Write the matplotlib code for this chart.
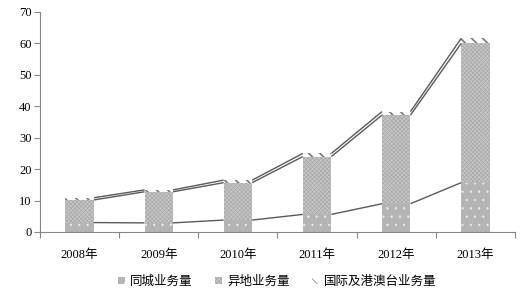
import matplotlib
matplotlib.use("Agg")
import matplotlib.pyplot as plt
import numpy as np

categories = ["2008年", "2009年", "2010年", "2011年", "2012年", "2013年"]
same_city = [3.0, 2.9, 3.8, 5.6, 9.0, 15.7]
other_city = [7.2, 9.9, 11.9, 18.4, 28.2, 44.3]
international = [0.7, 0.6, 0.8, 1.0, 1.1, 1.6]
series_names = ["同城业务量", "异地业务量", "国际及港澳台业务量"]
y_ticks = [0, 10, 20, 30, 40, 50, 60, 70]

plt.rcParams['font.family'] = ['Liberation Serif', 'Noto Sans CJK SC', 'DejaVu Sans']
plt.rcParams['hatch.linewidth'] = 0.5

fig = plt.figure(figsize=(5.2, 2.9), dpi=100)
ax = fig.add_axes([40/520, 1-232/290, 475/520, 220/290])

x = np.arange(len(categories))
w = 0.36
s1 = np.array(same_city)
s2 = np.array(other_city)
s3 = np.array(international)

b1 = ax.bar(x, s1, w, color='#b4b4b4', edgecolor='#e8e8e8', hatch='..', linewidth=0)
b2 = ax.bar(x, s2, w, bottom=s1, color='#c6c6c6', edgecolor='#a8a8a8', hatch='xxxxxxxx', linewidth=0)
b3 = ax.bar(x, s3, w, bottom=s1+s2, color='white', edgecolor='#808080', hatch='\\\\\\', linewidth=0)
for p in b3.patches:
    try:
        p.set_hatch_linewidth(1.3)
    except Exception:
        pass

lc = '#5a5a5a'
for cum in [s1, s1+s2, s1+s2+s3]:
    for i in range(len(x)-1):
        ax.plot([x[i]+w/2, x[i+1]-w/2], [cum[i], cum[i+1]], color=lc, lw=1.0, solid_capstyle='butt')

ax.set_xlim(-0.5, len(x)-0.5)
ax.set_ylim(0, 70)
ax.set_yticks(y_ticks)
ax.set_yticklabels([str(v) for v in y_ticks], fontsize=9)
ax.set_xticks(np.arange(-0.5, len(x)+0.5, 1.0))
ax.set_xticklabels([])
ax.set_xticks(x, minor=True)
ax.set_xticklabels(categories, minor=True, fontsize=9)
ax.tick_params(axis='x', which='minor', length=0, pad=12)
ax.tick_params(axis='x', which='major', length=4, color='#868686', direction='out')
ax.tick_params(axis='y', length=4, color='#868686', direction='out', pad=2)
for s in ['top', 'right']:
    ax.spines[s].set_visible(False)
for s in ['left', 'bottom']:
    ax.spines[s].set_color('#868686')
    ax.spines[s].set_linewidth(0.8)

leg = ax.legend([b1, b2, b3], series_names, loc='upper center', bbox_to_anchor=(0.5, -0.145),
                ncol=3, frameon=False, handlelength=0.55, handleheight=0.55,
                handletextpad=0.4, columnspacing=1.8, prop={'family': ['Noto Sans CJK SC'], 'size': 9})

fig.savefig("out.png", dpi=100)
